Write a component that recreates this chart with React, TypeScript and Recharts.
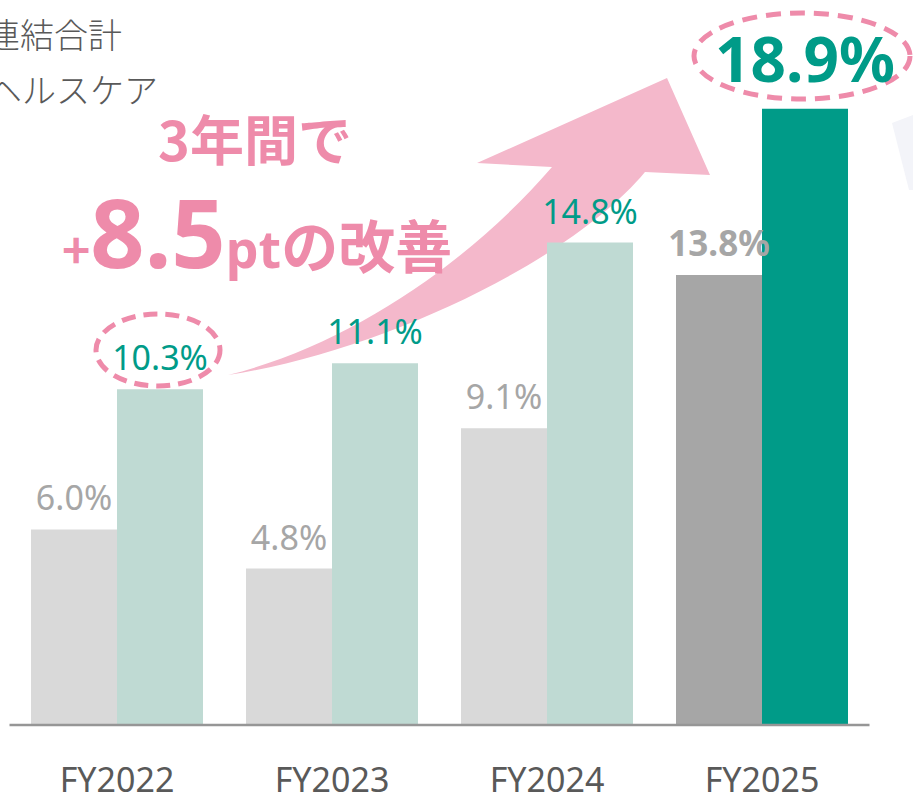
import { BarChart, Bar, XAxis, YAxis, Cell, LabelList, Customized } from 'recharts';

const categories = ['FY2022', 'FY2023', 'FY2024', 'FY2025'];
const totalValues = [6.0, 4.8, 9.1, 13.8];
const healthcareValues = [10.3, 11.1, 14.8, 18.9];
const seriesNames = ['連結合計', 'ヘルスケア'];

const data = categories.map((name, i) => ({
  name,
  total: totalValues[i],
  healthcare: healthcareValues[i],
}));

const FONT = '"Noto Sans", "Noto Sans CJK JP", sans-serif';
const JP = '"Noto Sans CJK JP", "Noto Sans", sans-serif';
const PINK = '#EE8BAA';

const totalFill = ['#D9D9D9', '#D9D9D9', '#D9D9D9', '#A6A6A6'];
const healthFill = ['#BFDAD3', '#BFDAD3', '#BFDAD3', '#009B88'];

const makeLabel = (color: string) => (props: any) => {
  const { x, y, width, value, index } = props;
  const last = index === categories.length - 1;
  const big = last && color === '#009B88';
  const size = big ? 62 : last ? 35 : 34;
  const off = big ? 27 : 19;
  return (
    <text
      x={x + width / 2}
      y={y - off}
      textAnchor="middle"
      fill={color}
      fontSize={size}
      fontWeight={last ? 700 : 400}
      fontFamily={FONT}
    >
      {value.toFixed(1)}%
    </text>
  );
};

function Annotations() {
  return (
    <g>
      {/* legend, its markers fall off the left edge */}
      <text x={122} y={48} textAnchor="end" fontSize={34} fontWeight={300} fill="#595959" fontFamily={JP}>
        {seriesNames[0]}
      </text>
      <text x={158} y={103} textAnchor="end" fontSize={34} fontWeight={300} fill="#595959" fontFamily={JP}>
        {seriesNames[1]}
      </text>

      <polygon points="892,123 913,115 913,190 909,190" fill="#F3F4F9" />

      <path
        d="M228,375 C380,352 570,262 645,172 L710,175 L667,78 L477,163 L552,167 C470,262 350,345 228,375 Z"
        fill="#F4B8CB"
      />

      <ellipse cx={158} cy={350} rx={62} ry={36} fill="none" stroke={PINK} strokeWidth={5} strokeDasharray="14 8" />
      <ellipse cx={802} cy={56} rx={108} ry={43} fill="none" stroke={PINK} strokeWidth={5} strokeDasharray="15 9" />

      <text x={255} y={161} textAnchor="middle" fontSize={54} fontWeight={700} fill={PINK} fontFamily={JP}>
        3年間で
      </text>
      <text x={62} y={268} fontWeight={700} fill={PINK} fontFamily={JP}>
        <tspan fontSize={48}>+</tspan>
        <tspan fontSize={95} fontFamily={FONT}>8.5</tspan>
        <tspan fontSize={52} fontFamily={FONT}>pt</tspan>
        <tspan fontSize={57}>の改善</tspan>
      </text>
    </g>
  );
}

export default function App() {
  return (
    <div style={{ position: 'absolute', left: 0, top: 0 }}>
      <BarChart
        width={913}
        height={797}
        data={data}
        margin={{ top: 73, right: 43.5, bottom: 0, left: 9.5 }}
        barCategoryGap="10%"
        barGap={0}
      >
        <Customized component={Annotations} />
        <XAxis
          dataKey="name"
          height={72}
          axisLine={{ stroke: '#969696', strokeWidth: 2.5 }}
          tickLine={false}
          tickSize={0}
          tickMargin={43}
          tick={{ fill: '#595959', fontSize: 34, fontFamily: FONT }}
        />
        <YAxis hide domain={[0, 20]} />
        <Bar dataKey="total" name={seriesNames[0]} isAnimationActive={false}>
          {data.map((_, i) => (
            <Cell key={i} fill={totalFill[i]} />
          ))}
          <LabelList dataKey="total" content={makeLabel('#A6A6A6')} />
        </Bar>
        <Bar dataKey="healthcare" name={seriesNames[1]} isAnimationActive={false}>
          {data.map((_, i) => (
            <Cell key={i} fill={healthFill[i]} />
          ))}
          <LabelList dataKey="healthcare" content={makeLabel('#009B88')} />
        </Bar>
      </BarChart>
    </div>
  );
}
